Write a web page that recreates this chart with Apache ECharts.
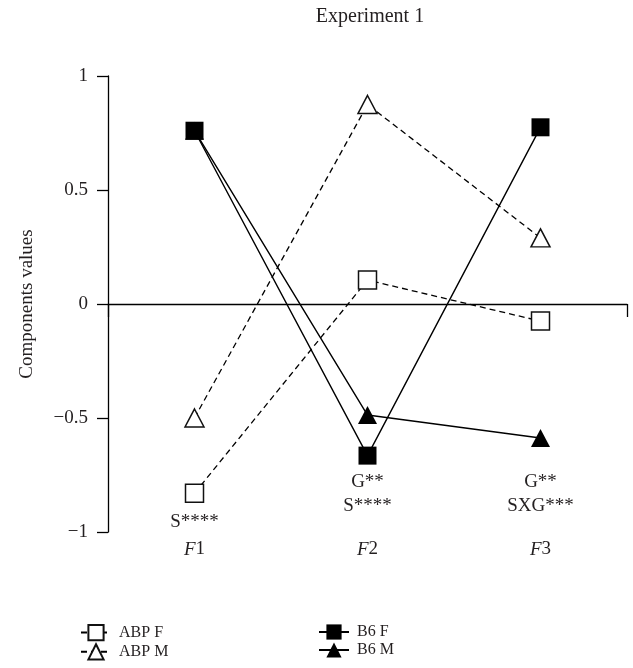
<!DOCTYPE html>
<html>
<head>
<meta charset="utf-8">
<script src="https://cdn.jsdelivr.net/npm/echarts@6/dist/echarts.min.js"></script>
<style>html,body{margin:0;padding:0;background:#fff}#c{width:633px;height:668px}</style>
</head>
<body>
<div id="c"></div>
<script>
const categories = ['F1', 'F2', 'F3'];
const annotations = [['S****'], ['G**', 'S****'], ['G**', 'SXG***']];
const yTicks = { min: -1, max: 1, step: 0.5 };
const abpF = [-0.83, 0.105, -0.075];
const abpM = [-0.50, 0.875, 0.29];
const b6F = [0.76, -0.665, 0.775];
const b6M = [0.76, -0.487, -0.588];

const FONT = '"Liberation Serif", "DejaVu Serif", serif';
const TXT = '#231f20';
const FS = 19;

const chart = echarts.init(document.getElementById('c'));
const openStyle = { color: '#fff', borderColor: '#111', borderWidth: 1.5 };
const fillStyle = { color: '#000', borderColor: '#000', borderWidth: 0 };

function mk(name, data, symbol, open, dashed) {
  return {
    name: name, type: 'line', data: data, xAxisIndex: 0,
    symbol: symbol, symbolSize: symbol === 'triangle' ? [19, 18] : 18,
    showAllSymbol: true,
    lineStyle: { color: '#000', width: dashed ? 1.3 : 1.4, type: dashed ? [6, 4] : 'solid' },
    itemStyle: open ? openStyle : fillStyle,
    emphasis: { disabled: true },
    z: 3, animation: false
  };
}

const legendCommon = {
  orient: 'vertical', itemWidth: 30, itemHeight: 19, itemGap: 2,
  textStyle: { fontFamily: FONT, fontSize: 16, color: TXT, padding: [0, 0, 0, 3] },
  selectedMode: false
};

chart.setOption({
  animation: false,
  title: {
    text: 'Experiment 1', left: 365, top: 2, textAlign: 'center',
    textStyle: { fontFamily: FONT, fontSize: 20, fontWeight: 'normal', color: TXT }
  },
  legend: [
    Object.assign({ data: ['ABP F', 'ABP M'], left: 75, top: 619 }, legendCommon),
    Object.assign({ data: ['B6 F', 'B6 M'], left: 313, top: 619 }, legendCommon)
  ],
  grid: { left: 108, right: 6, top: 76, bottom: 136, containLabel: false },
  xAxis: [
    {
      type: 'category', data: categories, boundaryGap: true,
      axisLine: { show: true, onZero: true, lineStyle: { color: '#000', width: 1.3 } },
      axisTick: { show: true, length: 13, lineStyle: { color: '#000', width: 1.3 },
        interval: function (i) { return i === categories.length - 1; } },
      axisLabel: { show: false }, splitLine: { show: false }
    },
    {
      type: 'category', data: categories, boundaryGap: true, position: 'bottom',
      axisLine: { show: false, onZero: false }, axisTick: { show: false }, splitLine: { show: false },
      axisLabel: {
        margin: 8, fontFamily: FONT, fontSize: FS, color: TXT,
        formatter: function (v) { return '{i|' + v.charAt(0) + '}{n|' + v.slice(1) + '}'; },
        rich: {
          i: { fontFamily: FONT, fontSize: FS, fontStyle: 'italic', color: TXT },
          n: { fontFamily: FONT, fontSize: FS, color: TXT }
        }
      }
    },
    {
      type: 'category', data: categories, boundaryGap: true, position: 'bottom',
      axisLine: { show: false, onZero: false }, axisTick: { show: false }, splitLine: { show: false },
      axisLabel: {
        margin: -62, fontFamily: FONT, fontSize: FS, color: TXT, verticalAlign: 'top',
        formatter: function (v, i) {
          const a = annotations[i];
          if (a.length === 1) return '{lo|' + a[0] + '}';
          return a.map(function (s) { return '{hi|' + s + '}'; }).join('\n');
        },
        rich: {
          lo: { fontFamily: FONT, fontSize: FS, color: TXT, lineHeight: 104 },
          hi: { fontFamily: FONT, fontSize: FS, color: TXT, lineHeight: 24 }
        }
      }
    }
  ],
  yAxis: {
    type: 'value', min: yTicks.min, max: yTicks.max, interval: yTicks.step,
    name: 'Components values', nameLocation: 'middle', nameGap: 71, nameRotate: 90,
    nameTextStyle: { fontFamily: FONT, fontSize: FS, color: TXT },
    axisLine: { show: true, lineStyle: { color: '#000', width: 1.3 } },
    axisTick: { show: true, length: 11, lineStyle: { color: '#000', width: 1.3 } },
    axisLabel: {
      margin: 20, fontFamily: FONT, fontSize: FS, color: TXT,
      formatter: function (v) { return v < 0 ? '\u2212' + Math.abs(v) : String(v); }
    },
    splitLine: { show: false }
  },
  series: [
    mk('ABP F', abpF, 'rect', true, true),
    mk('ABP M', abpM, 'triangle', true, true),
    mk('B6 F', b6F, 'rect', false, false),
    mk('B6 M', b6M, 'triangle', false, false)
  ]
});
</script>
</body>
</html>
